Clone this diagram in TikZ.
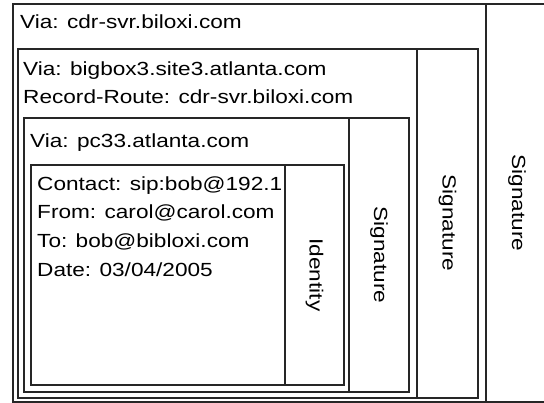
\documentclass[tikz,border=0pt]{standalone}
\usepackage{fontspec}
\setmainfont{Liberation Sans}[FakeStretch=1.19]
\usepackage{tikz}
\usetikzlibrary{positioning}
\tikzset{
  layer/.style={draw, line width=1.7pt, black!85},
  field/.style={anchor=base west, inner sep=0pt, font=\fontsize{19}{22}\selectfont},
  sig/.style={rotate=-90, inner sep=0pt, font=\fontsize{19}{22}\selectfont},
}

\begin{document}
\begin{tikzpicture}[x=1pt, y=-1pt]
      \useasboundingbox (0,0) rectangle (544,403);

      % nested hops, outermost first
      \draw[layer] (13,4) rectangle (548,402) (486,4) -- (486,402);
      \draw[layer] (18,49) rectangle (478,398) (417,49) -- (417,398);
      \draw[layer] (24,118) rectangle (409,392) (349,118) -- (349,392);
      \draw[layer] (31,165) rectangle (344,385) (285,165) -- (285,385);

      \node[field] (via1)    at (20,29)  {Via: cdr-svr.biloxi.com};
      \node[field] (via2)    at (23,76)  {Via: bigbox3.site3.atlanta.com};
      \node[field] (route)   at (23,104) {Record-Route: cdr-svr.biloxi.com};
      \node[field] (via3)    at (30,148) {Via: pc33.atlanta.com};
      \node[field] (contact) at (37,191) {Contact: sip:bob@192.1};
      \node[field] (from)    at (37,219) {From: carol@carol.com};
      \node[field] (to)      at (37,248) {To: bob@bibloxi.com};
      \node[field] (date)    at (37,277) {Date: 03/04/2005};

      \node[sig] (ident) at (314.5,275) {Identity};
      \node[sig] (sig3)  at (379,255)   {Signature};
      \node[sig] (sig2)  at (447.5,223) {Signature};
      \node[sig] (sig1)  at (517,203)   {Signature};
    \end{tikzpicture}
\end{document}
